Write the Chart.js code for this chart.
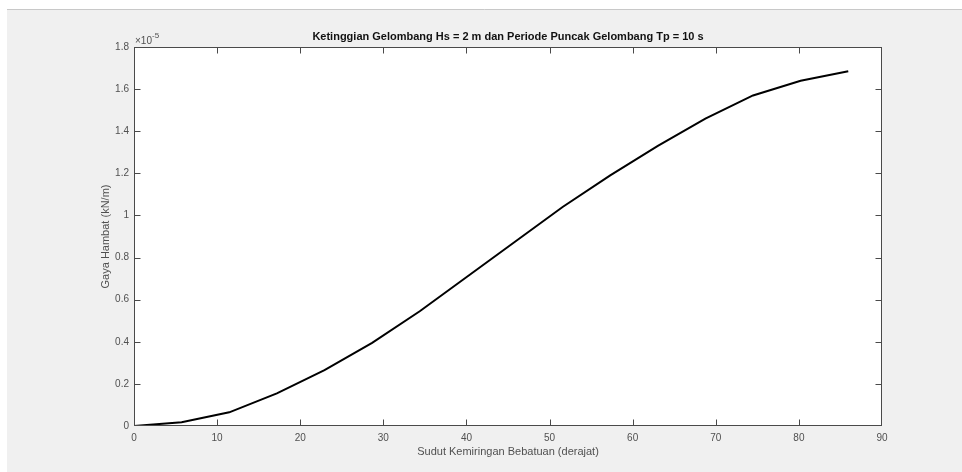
<!DOCTYPE html>
<html>
<head>
<meta charset="utf-8">
<script src="https://cdn.jsdelivr.net/npm/chart.js@4/dist/chart.umd.min.js"></script>
<style>
html,body{margin:0;padding:0;background:#fff;}
#wrap{width:962px;height:472px;}
</style>
</head>
<body>
<div id="wrap"><canvas id="c" width="962" height="472"></canvas></div>
<script>
// Data (angle in degrees, force in kN/m)
const sudutDerajat = [0, 5.73, 11.46, 17.19, 22.92, 28.65, 34.38, 40.11, 45.84, 51.57, 57.30, 63.03, 68.75, 74.48, 80.21, 85.94];
const gayaHambat = [0, 0.018e-5, 0.065e-5, 0.155e-5, 0.265e-5, 0.395e-5, 0.545e-5, 0.71e-5, 0.875e-5, 1.04e-5, 1.19e-5, 1.33e-5, 1.46e-5, 1.57e-5, 1.64e-5, 1.685e-5];
const titleText = 'Ketinggian Gelombang Hs = 2 m dan Periode Puncak Gelombang Tp = 10 s';
const xTitle = 'Sudut Kemiringan Bebatuan (derajat)';
const yTitle = 'Gaya Hambat (kN/m)';
const yExponent = -5;

const FONT = '"Liberation Sans", Arial, Helvetica, sans-serif';
const AXIS_COLOR = '#4a4a4a';
const TEXT_COLOR = '#505050';

const points = sudutDerajat.map((x, i) => ({x: x, y: gayaHambat[i]}));

const figurePlugin = {
  id: 'figure',
  beforeDraw(chart) {
    const ctx = chart.ctx;
    ctx.save();
    ctx.fillStyle = '#ffffff';
    ctx.fillRect(0, 0, chart.width, chart.height);
    ctx.fillStyle = '#f0f0f0';
    ctx.fillRect(7, 9, chart.width - 7, chart.height - 9);
    ctx.strokeStyle = '#c8c8c8';
    ctx.lineWidth = 1;
    ctx.beginPath();
    ctx.moveTo(7, 9.5);
    ctx.lineTo(chart.width, 9.5);
    ctx.stroke();
    const a = chart.chartArea;
    ctx.fillStyle = '#ffffff';
    ctx.fillRect(a.left, a.top, a.right - a.left, a.bottom - a.top);
    ctx.restore();
  },
  afterDraw(chart) {
    const ctx = chart.ctx;
    const a = chart.chartArea;
    const xs = chart.scales.x, ys = chart.scales.y;
    ctx.save();
    ctx.strokeStyle = AXIS_COLOR;
    ctx.lineWidth = 1;
    const L = a.left + 0.5, R = a.right - 0.5, T = a.top + 0.5, B = a.bottom - 0.5;
    ctx.strokeRect(L, T, R - L, B - T);
    const tl = 6;
    ctx.beginPath();
    xs.ticks.forEach((t, i) => {
      let px = Math.round(xs.getPixelForTick(i)) + 0.5;
      px = Math.min(Math.max(px, L), R);
      ctx.moveTo(px, B); ctx.lineTo(px, B - tl);
      ctx.moveTo(px, T); ctx.lineTo(px, T + tl);
    });
    ys.ticks.forEach((t, i) => {
      let py = Math.round(ys.getPixelForTick(i)) + 0.5;
      py = Math.min(Math.max(py, T), B);
      ctx.moveTo(L, py); ctx.lineTo(L + tl, py);
      ctx.moveTo(R, py); ctx.lineTo(R - tl, py);
    });
    ctx.stroke();
    // title
    ctx.fillStyle = '#111111';
    ctx.font = 'bold 11px ' + FONT;
    ctx.textAlign = 'center';
    ctx.textBaseline = 'middle';
    ctx.fillText(titleText, (a.left + a.right) / 2, 36.5);
    // exponent
    ctx.fillStyle = TEXT_COLOR;
    ctx.textAlign = 'left';
    ctx.textBaseline = 'alphabetic';
    ctx.font = '10px ' + FONT;
    const base = '\u00d710';
    ctx.fillText(base, a.left + 1, 44);
    const w = ctx.measureText(base).width;
    ctx.font = '8px ' + FONT;
    ctx.fillText(String(yExponent), a.left + 1 + w, 38);
    ctx.restore();
  }
};

new Chart(document.getElementById('c'), {
  type: 'scatter',
  data: {
    datasets: [{
      data: points,
      showLine: true,
      borderColor: '#000000',
      borderWidth: 2,
      pointRadius: 0,
      tension: 0,
      fill: false
    }]
  },
  options: {
    responsive: false,
    animation: false,
    devicePixelRatio: 1,
    layout: { padding: { top: 47, left: 0, right: 80, bottom: 0 } },
    plugins: { legend: { display: false }, tooltip: { enabled: false }, title: { display: false } },
    scales: {
      x: {
        type: 'linear', min: 0, max: 90,
        ticks: { stepSize: 10, color: TEXT_COLOR, font: { family: FONT, size: 10 }, padding: 6, maxRotation: 0 },
        grid: { display: true, drawOnChartArea: false, drawTicks: false },
        border: { display: false },
        title: { display: true, text: xTitle, color: TEXT_COLOR, font: { family: FONT, size: 11 }, padding: { top: 0, bottom: 13 } },
        afterFit(s) { s.height = 46; }
      },
      y: {
        type: 'linear', min: 0, max: 1.8e-5,
        ticks: {
          stepSize: 0.2e-5, color: TEXT_COLOR, font: { family: FONT, size: 10 }, padding: 5,
          callback: v => String(parseFloat((v * 1e5).toFixed(2)))
        },
        grid: { display: true, drawOnChartArea: false, drawTicks: false },
        border: { display: false },
        title: { display: true, text: yTitle, color: TEXT_COLOR, font: { family: FONT, size: 11 }, padding: { top: 99, bottom: 0 } },
        afterFit(s) { s.width = 134; }
      }
    }
  },
  plugins: [figurePlugin]
});
</script>
</body>
</html>
